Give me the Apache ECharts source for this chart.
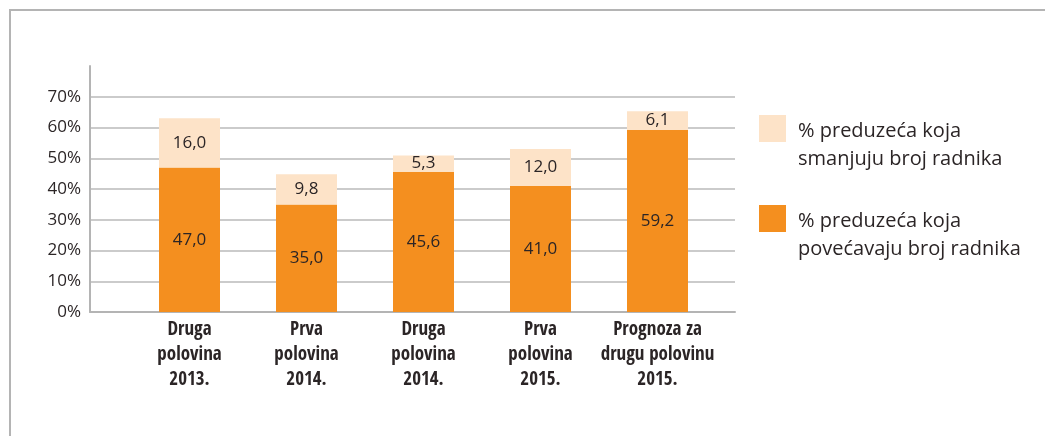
<!DOCTYPE html>
<html>
<head>
<meta charset="utf-8">
<script src="https://cdn.jsdelivr.net/npm/echarts@6/dist/echarts.min.js"></script>
<style>
  html, body { margin: 0; padding: 0; background: #fff; }
  #frame { position: absolute; left: 9px; top: 9px; width: 1100px; height: 500px;
           border-top: 2px solid #b4b4b4; border-left: 2px solid #b4b4b4; }
  #chart { position: absolute; left: 0; top: 0; width: 1045px; height: 436px; }
</style>
</head>
<body>
<div id="frame"></div>
<div id="chart"></div>
<script>
const categories = [
  'Druga\npolovina\n2013.',
  'Prva\npolovina\n2014.',
  'Druga\npolovina\n2014.',
  'Prva\npolovina\n2015.',
  'Prognoza za\ndrugu polovinu\n2015.'
];
const seriesIncrease = '% preduzeća koja povećavaju broj radnika';
const seriesDecrease = '% preduzeća koja smanjuju broj radnika';
const increaseValues = [47.0, 35.0, 45.6, 41.0, 59.2];
const decreaseValues = [16.0, 9.8, 5.3, 12.0, 6.1];
const yMax = 80;
const yInterval = 10;

const fmt = p => p.value.toFixed(1).replace('.', ',');
const labelStyle = {
  show: true, position: 'inside', formatter: fmt,
  color: '#2b2526', fontSize: 17, fontFamily: 'Open Sans'
};

const chart = echarts.init(document.getElementById('chart'), null, { renderer: 'canvas' });
chart.setOption({
  backgroundColor: 'transparent',
  animation: false,
  grid: [
    { left: 90, right: 310, top: 66, bottom: 124 },
    { left: 131, right: 329, top: 66, bottom: 124 }
  ],
  xAxis: [
    {
      type: 'category', gridIndex: 0, data: categories,
      axisLine: { show: true, lineStyle: { color: '#b4b4b4', width: 2 } },
      axisTick: { show: false }, axisLabel: { show: false }
    },
    {
      type: 'category', gridIndex: 1, data: categories,
      axisLine: { show: false }, axisTick: { show: false },
      axisLabel: {
        interval: 0, margin: 6, color: '#2b2526', fontSize: 19, fontWeight: 'bold',
        fontFamily: '"Open Sans Condensed", "Roboto Condensed", sans-serif',
        lineHeight: 25
      }
    }
  ],
  yAxis: [
    {
      type: 'value', gridIndex: 0, min: 0, max: yMax, interval: yInterval,
      axisLine: { show: true, lineStyle: { color: '#b4b4b4', width: 2 } },
      axisTick: { show: false },
      axisLabel: {
        formatter: '{value}%', margin: 9, showMaxLabel: false,
        color: '#2b2526', fontSize: 17, fontFamily: 'Open Sans'
      },
      splitLine: { show: true, showMaxLine: false, showMinLine: false,
                   lineStyle: { color: '#cbcbcb', width: 2 } }
    },
    {
      type: 'value', gridIndex: 1, min: 0, max: yMax, interval: yInterval,
      show: false, splitLine: { show: false }
    }
  ],
  legend: {
    orient: 'vertical', left: 759, top: 83.5, padding: 0, itemGap: 0,
    itemWidth: 27, itemHeight: 27, icon: 'rect',
    data: [seriesDecrease, seriesIncrease],
    formatter: name => '{s| }\n{t|' + name.replace(' koja ', ' koja}\n{t|') + '}',
    textStyle: {
      color: '#2b2526', fontSize: 20, fontFamily: 'Open Sans',
      lineHeight: 28, padding: [0, 0, 0, 7],
      rich: {
        s: { fontSize: 4, lineHeight: 34 },
        t: { color: '#2b2526', fontSize: 20, fontFamily: 'Open Sans', lineHeight: 28 }
      }
    }
  },
  series: [
    {
      name: seriesIncrease, type: 'bar', stack: 'total',
      xAxisIndex: 1, yAxisIndex: 1, barWidth: 61,
      itemStyle: { color: '#f48f1f' },
      label: labelStyle,
      data: increaseValues
    },
    {
      name: seriesDecrease, type: 'bar', stack: 'total',
      xAxisIndex: 1, yAxisIndex: 1, barWidth: 61,
      itemStyle: { color: '#fde3c8' },
      label: labelStyle,
      data: decreaseValues
    }
  ]
});
</script>
</body>
</html>
